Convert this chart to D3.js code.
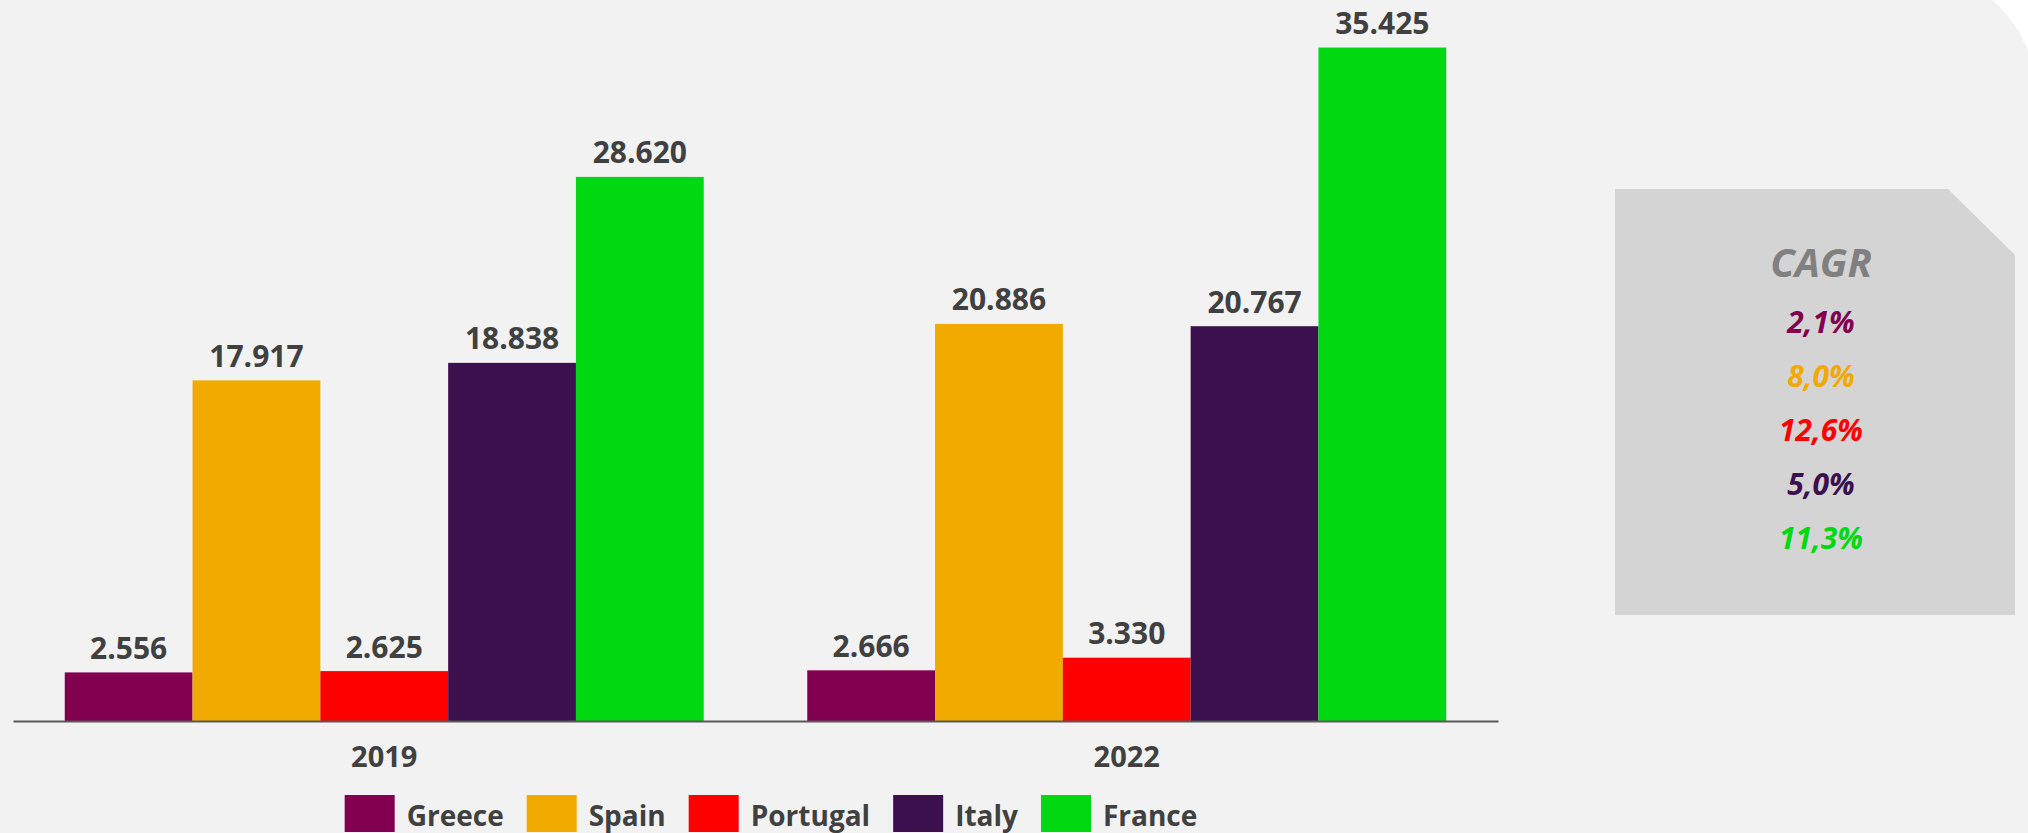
<!DOCTYPE html>
<html>
<head>
<meta charset="utf-8">
<script src="https://cdn.jsdelivr.net/npm/d3@7"></script>
<style>
  html, body { margin: 0; padding: 0; background: #ffffff; }
  svg { display: block; }
  text { font-family: "Open Sans", "DejaVu Sans", sans-serif; }
</style>
</head>
<body>
<svg id="chart" width="2028" height="833"></svg>
<script>
// ---- data ----
const years = ["2019", "2022"];
const countries = ["Greece", "Spain", "Portugal", "Italy", "France"];
const values2019 = [2556, 17917, 2625, 18838, 28620];
const values2022 = [2666, 20886, 3330, 20767, 35425];
const cagrLabels = ["2,1%", "8,0%", "12,6%", "5,0%", "11,3%"];
const colors = ["#820050", "#F0AA00", "#FF0000", "#3C104E", "#00D912"];

const seriesByYear = { "2019": values2019, "2022": values2022 };

const W = 2028, H = 833;
const svg = d3.select("#chart");

// background with rounded top-right corner
const bgR = 125, bgRight = 2036, bgTop = -30;
svg.append("path")
  .attr("d", `M-10,${bgTop} H${bgRight - bgR} A${bgR},${bgR} 0 0 1 ${bgRight},${bgTop + bgR} V${H + 10} H-10 Z`)
  .attr("fill", "#F2F2F2");

// scales
const baseY = 721;
const x0 = d3.scaleBand().domain(years).range([13, 1498]).padding(0);
const x1 = d3.scaleBand().domain(countries).range([0, x0.bandwidth()]).paddingInner(0).paddingOuter(0.405);
const y = d3.scaleLinear().domain([0, 36000]).range([baseY, 36.6]);
const color = d3.scaleOrdinal().domain(countries).range(colors);

const locale = d3.formatLocale({ decimal: ",", thousands: ".", grouping: [3], currency: ["", "€"] });
const fmt = locale.format(",d");

const rows = [];
years.forEach(yr => countries.forEach((c, i) => rows.push({ year: yr, country: c, value: seriesByYear[yr][i] })));

const g = svg.append("g");
g.selectAll("rect.bar").data(rows).join("rect")
  .attr("class", "bar")
  .attr("x", d => x0(d.year) + x1(d.country))
  .attr("y", d => y(d.value))
  .attr("width", x1.bandwidth())
  .attr("height", d => y(0) - y(d.value))
  .attr("fill", d => color(d.country));

g.selectAll("text.val").data(rows).join("text")
  .attr("class", "val")
  .attr("x", d => x0(d.year) + x1(d.country) + x1.bandwidth() / 2)
  .attr("y", d => y(d.value) - 13.5)
  .attr("text-anchor", "middle")
  .attr("font-size", 30)
  .attr("font-weight", 700)
  .attr("fill", "#404040")
  .text(d => fmt(d.value));

// x axis
const xAxis = d3.axisBottom(x0).tickSize(0).tickPadding(0);
const ax = svg.append("g").attr("transform", `translate(0,${baseY})`).call(xAxis);
ax.select(".domain").attr("stroke", "#595959").attr("stroke-width", 2);
ax.selectAll(".tick text")
  .attr("y", 46)
  .attr("dy", null)
  .attr("font-family", "'Open Sans', sans-serif")
  .attr("font-size", 29)
  .attr("font-weight", 700)
  .attr("fill", "#404040");

// legend
const legend = svg.append("g");
const swW = 50, swH = 37, swGap = 12, itemGap = 23;
const items = legend.selectAll("g.item").data(countries).join("g").attr("class", "item");
items.append("rect").attr("width", swW).attr("height", swH).attr("y", 795).attr("fill", d => color(d));
items.append("text").attr("x", swW + swGap).attr("y", 826)
  .attr("font-size", 28).attr("font-weight", 700).attr("fill", "#404040").text(d => d);
let cx = 0;
const widths = [];
items.each(function () {
  const tw = d3.select(this).select("text").node().getComputedTextLength();
  widths.push(tw);
});
const total = d3.sum(widths) + countries.length * (swW + swGap) + (countries.length - 1) * itemGap;
cx = 771 - total / 2;
items.each(function (d, i) {
  d3.select(this).attr("transform", `translate(${cx},0)`);
  cx += swW + swGap + widths[i] + itemGap;
});

// CAGR box
const bx0 = 1615, bx1 = 2015, by0 = 189, by1 = 615, cut = 67;
svg.append("path")
  .attr("d", `M${bx0},${by0} H${bx1 - cut} L${bx1},${by0 + cut - 1} V${by1} H${bx0} Z`)
  .attr("fill", "#D4D4D4");
const boxCx = 1821;
svg.append("text").attr("x", boxCx).attr("y", 277).attr("text-anchor", "middle")
  .attr("font-size", 40).attr("font-weight", 700).attr("font-style", "italic")
  .attr("fill", "#808080").text("CAGR");
const cagrY = d3.scalePoint().domain(countries).range([333, 549]);
svg.selectAll("text.cagr").data(countries).join("text")
  .attr("class", "cagr")
  .attr("x", boxCx)
  .attr("y", d => cagrY(d))
  .attr("text-anchor", "middle")
  .attr("font-size", 30).attr("font-weight", 700).attr("font-style", "italic")
  .attr("fill", d => color(d))
  .text((d, i) => cagrLabels[i]);
</script>
</body>
</html>
